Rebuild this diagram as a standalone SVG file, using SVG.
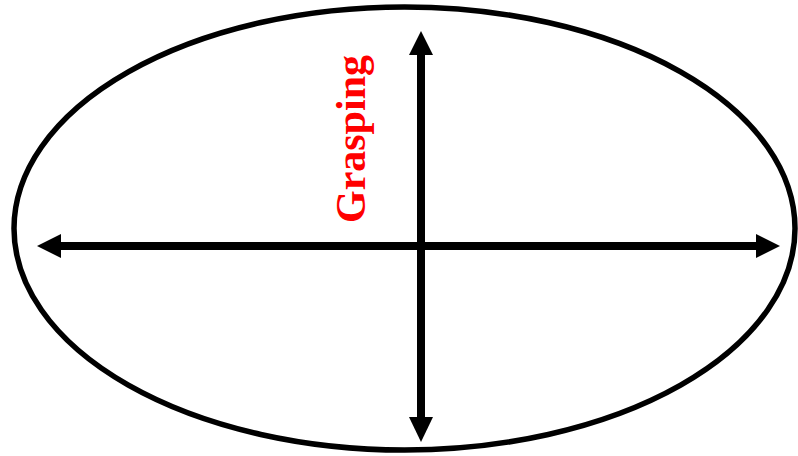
<svg xmlns="http://www.w3.org/2000/svg" width="798" height="456" viewBox="0 0 798 456">
<style>
.ax{stroke:#000;stroke-width:8;fill:none}
.hd{fill:#000}
.lbl{font-family:"Liberation Serif",serif;font-weight:bold;font-size:42px;fill:#ff0000}
</style>
<rect width="798" height="456" fill="#fff"/>
<g id="ellipse">
<ellipse cx="404.5" cy="228.5" rx="390.5" ry="221.5" fill="none" stroke="#000" stroke-width="5.5"/>
</g>
<g id="connectors">
<line class="ax" x1="58" y1="246" x2="760" y2="246"/>
<polygon class="hd" points="37,246 61,234 61,258"/>
<polygon class="hd" points="780,246 756,234 756,258"/>
<line class="ax" x1="421" y1="52" x2="421" y2="420"/>
<polygon class="hd" points="421,31 409,55 433,55"/>
<polygon class="hd" points="421,442 409,417 433,417"/>
</g>
<g id="label">
<text class="lbl" x="365" y="139" text-anchor="middle" transform="rotate(-90 365 139)">Grasping</text>
</g>
</svg>
